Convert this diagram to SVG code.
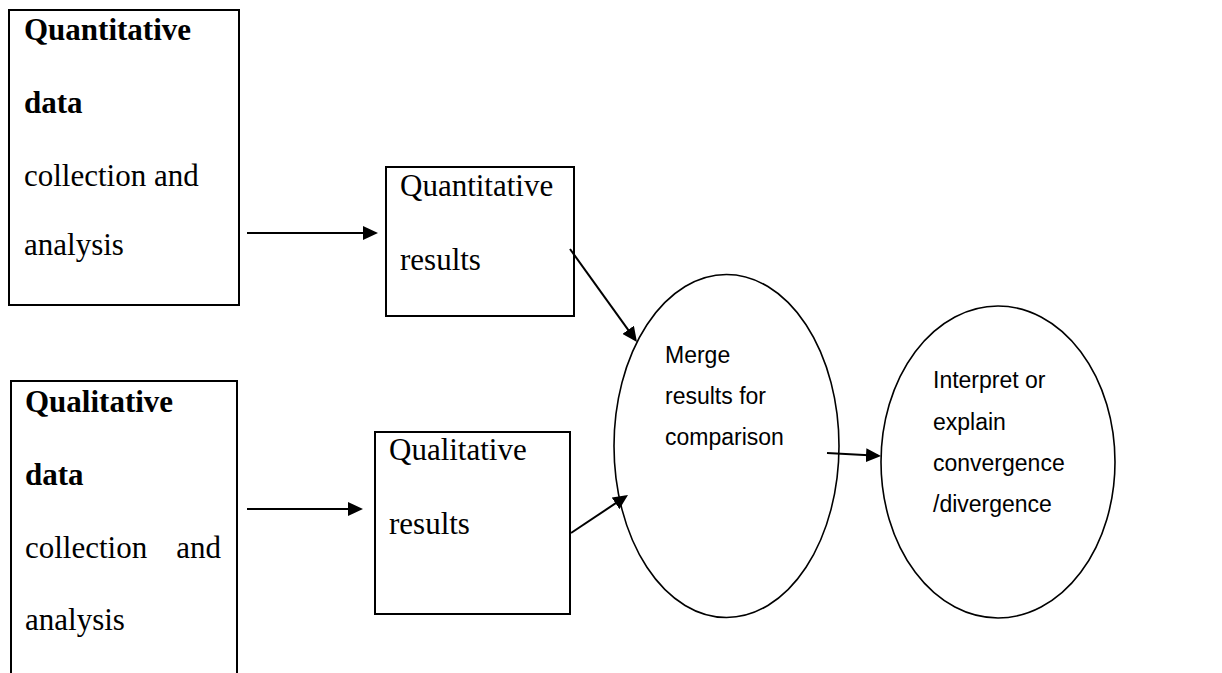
<svg xmlns="http://www.w3.org/2000/svg" width="1222" height="673" viewBox="0 0 1222 673">
<defs>
<style>
.box{fill:#fff;stroke:#000;stroke-width:2}
.ell{fill:#fff;stroke:#000;stroke-width:1.6}
.t{font-family:"Liberation Serif","Times New Roman",serif;font-size:31px;fill:#000}
.b{font-weight:bold}
.s{font-family:"Liberation Sans",Arial,sans-serif;font-size:23px;fill:#000}
.c{stroke:#000;stroke-width:2;fill:none;marker-end:url(#ah)}
</style>
<marker id="ah" markerWidth="16" markerHeight="14" refX="12" refY="7" orient="auto" markerUnits="userSpaceOnUse">
<path d="M0,0 L15,7 L0,14 z" fill="#000"/>
</marker>
</defs>
<rect width="1222" height="673" fill="#fff"/>
<g id="quant-data">
<rect class="box" x="9" y="10" width="230" height="295"/>
<text class="t b" x="24" y="40">Quantitative</text>
<text class="t b" x="24" y="113">data</text>
<text class="t" x="24" y="186">collection and</text>
<text class="t" x="24" y="255">analysis</text>
</g>
<g id="qual-data">
<rect class="box" x="11" y="381" width="226" height="300"/>
<text class="t b" x="25" y="412">Qualitative</text>
<text class="t b" x="25" y="485">data</text>
<text class="t" x="25" y="558">collection</text>
<text class="t" x="221" y="558" text-anchor="end">and</text>
<text class="t" x="25" y="630">analysis</text>
</g>
<g id="quant-results">
<rect class="box" x="386" y="167" width="188" height="149"/>
<text class="t" x="400" y="196">Quantitative</text>
<text class="t" x="400" y="270">results</text>
</g>
<g id="qual-results">
<rect class="box" x="375" y="432" width="195" height="182"/>
<text class="t" x="389" y="460">Qualitative</text>
<text class="t" x="389" y="534">results</text>
</g>
<g id="merge">
<ellipse class="ell" cx="726.5" cy="446" rx="112.5" ry="171.5"/>
<text class="s" x="665" y="363">Merge</text>
<text class="s" x="665" y="404">results for</text>
<text class="s" x="665" y="445">comparison</text>
</g>
<g id="interpret">
<ellipse class="ell" cx="998" cy="462" rx="117" ry="156"/>
<text class="s" x="933" y="388">Interpret or</text>
<text class="s" x="933" y="430">explain</text>
<text class="s" x="933" y="471">convergence</text>
<text class="s" x="933" y="512">/divergence</text>
</g>
<g id="connectors">
<line class="c" x1="247" y1="233" x2="375" y2="233"/>
<line class="c" x1="247" y1="509" x2="360" y2="509"/>
<line class="c" x1="570" y1="249" x2="635.2" y2="339.6"/>
<line class="c" x1="571" y1="533" x2="625.5" y2="496.7"/>
<line class="c" x1="827" y1="453" x2="878" y2="455.8"/>
</g>
</svg>
